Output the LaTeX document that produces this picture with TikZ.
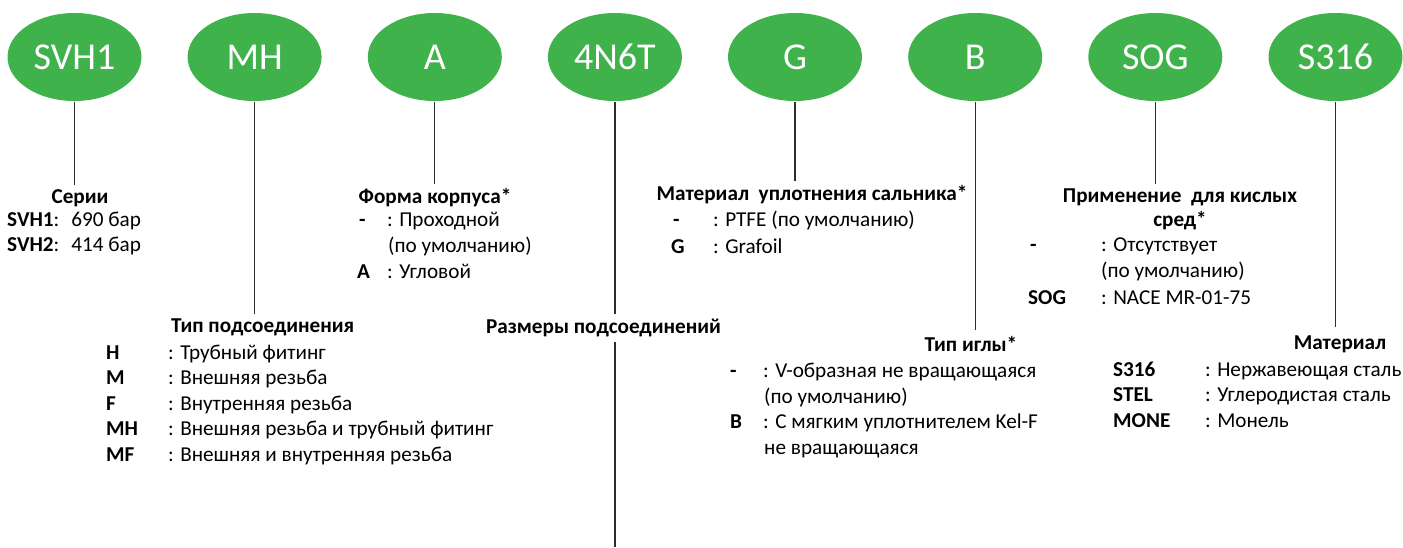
\documentclass[tikz,border=0pt]{standalone}
\usepackage{fontspec}
\setmainfont{Carlito}
\usetikzlibrary{shapes.geometric}
\definecolor{pgreen}{RGB}{64,178,75}
\definecolor{lk}{RGB}{45,45,45}
\begin{document}
\begin{tikzpicture}[x=1pt,y=-1pt,
  code/.style={ellipse, fill=pgreen, minimum width=134pt, minimum height=88pt, inner sep=0pt, text=white, font=\fontsize{38}{42}\selectfont},
  conn/.style={draw=lk, line width=1.3pt, shorten <=1pt, shorten >=4pt},
  ttl/.style={anchor=base, inner sep=0pt, font=\fontsize{21.2}{25}\selectfont\bfseries},
  ttlw/.style={anchor=base west, inner sep=0pt, font=\fontsize{21.2}{25}\selectfont\bfseries},
  key/.style={anchor=base west, inner sep=0pt, font=\fontsize{21.2}{25}\selectfont\bfseries},
  val/.style={anchor=base west, inner sep=0pt, font=\fontsize{21.2}{25}\selectfont},
]
\useasboundingbox (0,0) rectangle (1403,547);

% code ellipses
\node[code] (e1) at (74.5,57) {SVH1};
\node[code] (e2) at (254.6,57) {MH};
\node[code] (e3) at (434.8,57) {A};
\node[code] (e4) at (614.9,57) {4N6T};
\node[code] (e5) at (795,57) {G};
\node[code] (e6) at (975.2,57) {B};
\node[code] (e7) at (1155.3,57) {SOG};
\node[code] (e8) at (1335.5,57) {S316};

% titles
\node[ttl] (t1) at (80,203) {Серии};
\node[ttl] (t2) at (435,203) {Форма корпуса*};
\node[ttlw] (t3) at (171,332) {Тип подсоединения};
\node[ttl] (t4) at (603.5,333) {Размеры подсоединений};
\node[ttl] (t5) at (812,200) {Материал\ \ уплотнения сальника*};
\node[ttl] (t6) at (971,351) {Тип иглы*};
\node[ttl] (t7) at (1180,202) {Применение\ \ для кислых};
\node[ttl] (t7b) at (1180,226) {сред*};
\node[ttl] (t8) at (1340,349) {Материал};
\coordinate (bot) at (614.9,547);

% connectors
\draw[conn] (e1.south) -- (e1.south |- t1.north);
\draw[conn] (e2.south) -- (e2.south |- t3.north);
\draw[conn] (e3.south) -- (e3.south |- t2.north);
\draw[conn] (e4.south) -- (e4.south |- t4.north);
\draw[conn, shorten <=5pt, shorten >=0pt] (e4.south |- t4.south) -- (bot);
\draw[conn] (e5.south) -- (e5.south |- t5.north);
\draw[conn, shorten >=6pt] (e6.south) -- (e6.south |- t6.north);
\draw[conn] (e7.south) -- (e7.south |- t7.north);
\draw[conn, shorten >=8pt] (e8.south) -- (e8.south |- t8.north);

% Серии
\node[val] (s1) at (7,226) {\textbf{SVH1}:\hspace{12pt}690 бар};
\node[val] (s2) at (7,251.5) {\textbf{SVH2}:\hspace{12pt}414 бар};

% Форма корпуса
\node[key] (f1k) at (359,226) {-};
\node[val] (f1v) at (387,226) {: Проходной};
\node[val] (f1c) at (388,252) {(по умолчанию)};
\node[key] (f2k) at (357,278) {A};
\node[val] (f2v) at (387,278) {: Угловой};

% Тип подсоединения
\node[key] (c1k) at (106,359) {H};
\node[val] (c1v) at (168,359) {: Трубный фитинг};
\node[key] (c2k) at (106,384.5) {M};
\node[val] (c2v) at (168,384.5) {: Внешняя резьба};
\node[key] (c3k) at (106,410) {F};
\node[val] (c3v) at (168,410) {: Внутренняя резьба};
\node[key] (c4k) at (106,435.5) {MH};
\node[val] (c4v) at (168,435.5) {: Внешняя резьба и трубный фитинг};
\node[key] (c5k) at (106,461) {MF};
\node[val] (c5v) at (168,461) {: Внешняя и внутренняя резьба};

% Материал уплотнения сальника
\node[key] (m1k) at (673,226) {-};
\node[val] (m1v) at (713,226) {: PTFE (по умолчанию)};
\node[key] (m2k) at (671,253) {G};
\node[val] (m2v) at (713,253) {: Grafoil};

% Тип иглы
\node[key] (n1k) at (730,377.5) {-};
\node[val] (n1v) at (763,377.5) {: V-образная не вращающаяся};
\node[val] (n1c) at (764,403) {(по умолчанию)};
\node[key] (n2k) at (730,428.5) {B};
\node[val] (n2v) at (763,428.5) {: С мягким уплотнителем Kel-F};
\node[val] (n2c) at (764,454) {не вращающаяся};

% Применение для кислых сред
\node[key] (a1k) at (1030,251.5) {-};
\node[val] (a1v) at (1101,251.5) {: Отсутствует};
\node[val] (a1c) at (1101,277.5) {(по умолчанию)};
\node[key] (a2k) at (1028,304) {SOG};
\node[val] (a2v) at (1101,304) {: NACE MR-01-75};

% Материал
\node[key] (b1k) at (1113,376) {S316};
\node[val] (b1v) at (1205,376) {: Нержавеющая сталь};
\node[key] (b2k) at (1113,401.5) {STEL};
\node[val] (b2v) at (1205,401.5) {: Углеродистая сталь};
\node[key] (b3k) at (1113,427) {MONE};
\node[val] (b3v) at (1205,427) {: Монель};
\end{tikzpicture}
\end{document}
